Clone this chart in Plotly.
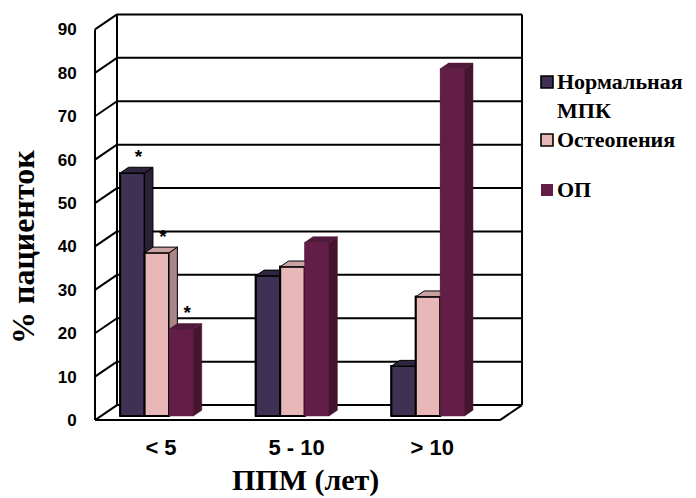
import plotly.graph_objects as go

# ---- data -------------------------------------------------------------
categories = ["< 5", "5 - 10", "> 10"]
series_names = ["Нормальная<br>МПК", "Остеопения", "ОП"]
normal_bmd = [56, 32.3, 11.5]
osteopenia = [37.6, 34.4, 27.5]
osteoporosis = [20, 40, 80]
significance = [["*", "", ""], ["*", "", ""], ["*", "", ""]]
y_ticks = [0, 10, 20, 30, 40, 50, 60, 70, 80, 90]
x_title = "ППМ (лет)"
y_title = "% пациенток"

series_values = [normal_bmd, osteopenia, osteoporosis]

# ---- styles -----------------------------------------------------------
SERIF = "Liberation Serif, Times New Roman, serif"
SANS = "Liberation Sans, Arial, sans-serif"
LEGEND_SIZE = 22
front_colors = ["#3f3153", "#e8b7b8", "#621e46"]
top_colors = ["#30253f", "#c9a1a1", "#511a3a"]
side_colors = ["#2a2037", "#a98585", "#45142f"]
edge_colors = ["black", "black", None]

# oblique projection: one depth unit moves a point right and up
DX = 22 / 135.6          # category units per depth unit
DY = 15 / 4.34           # value units per depth unit
D_FRONT, D_BAR, D_BACK = -0.27, 0.38, 0.73
X_LEFT, X_RIGHT = -0.412, 2.575
BAR_W = 0.18

# plot area in pixels (for placing the legend keys and titles)
PLOT_L, PLOT_R, PLOT_T, PLOT_B = 88, 530, 8, 432


def px_x(px):
    return (px - PLOT_L) / (PLOT_R - PLOT_L)


def px_y(py):
    return (PLOT_B - py) / (PLOT_B - PLOT_T)


def proj(x, v, d):
    return x + d * DX, v + d * DY


fig = go.Figure()

# bars (front faces)
for k, vals in enumerate(series_values):
    fig.add_trace(go.Bar(
        x=[i + (k - 1) * BAR_W for i in range(len(categories))],
        y=vals, width=BAR_W, name=series_names[k],
        marker=dict(color=front_colors[k],
                    line=dict(color=edge_colors[k] or front_colors[k],
                              width=2 if edge_colors[k] else 0)),
        hoverinfo="skip", showlegend=False,
    ))

# walls, floor and gridlines
wx, wy = [], []


def seg(p, q):
    wx.extend([p[0], q[0], None])
    wy.extend([p[1], q[1], None])


top = y_ticks[-1]
for t in y_ticks:
    seg(proj(X_LEFT, t, D_BACK), proj(X_RIGHT, t, D_BACK))
    seg(proj(X_LEFT, t, D_FRONT), proj(X_LEFT, t, D_BACK))
seg(proj(X_LEFT, 0, D_FRONT), proj(X_LEFT, top, D_FRONT))
seg(proj(X_LEFT, 0, D_BACK), proj(X_LEFT, top, D_BACK))
seg(proj(X_RIGHT, 0, D_BACK), proj(X_RIGHT, top, D_BACK))
seg(proj(X_LEFT, 0, D_FRONT), proj(X_RIGHT, 0, D_FRONT))
seg(proj(X_RIGHT, 0, D_FRONT), proj(X_RIGHT, 0, D_BACK))
fig.add_trace(go.Scatter(x=wx, y=wy, mode="lines",
                         line=dict(color="black", width=2),
                         showlegend=False, hoverinfo="skip"))


def face(pts, fill, edge, width):
    xs = [p[0] for p in pts] + [pts[0][0]]
    ys = [p[1] for p in pts] + [pts[0][1]]
    fig.add_trace(go.Scatter(
        x=xs, y=ys, mode="lines", fill="toself", fillcolor=fill,
        line=dict(color=edge or fill, width=width if edge else 0.5),
        showlegend=False, hoverinfo="skip"))


# 3-D faces drawn group by group, left to right
for i in range(len(categories)):
    for k, vals in enumerate(series_values):
        v = vals[i]
        xl = i + (k - 1) * BAR_W - BAR_W / 2
        xr = xl + BAR_W
        face([(xl, 0), (xr, 0), (xr, v), (xl, v)],
             front_colors[k], edge_colors[k], 2)
        face([(xr, 0), (xr, v), proj(xr, v, D_BAR), proj(xr, 0, D_BAR)],
             side_colors[k], edge_colors[k], 1)
        face([(xl, v), (xr, v), proj(xr, v, D_BAR), proj(xl, v, D_BAR)],
             top_colors[k], edge_colors[k], 1)

# significance marks
sx, sy, st = [], [], []
for k, vals in enumerate(series_values):
    for i, mark in enumerate(significance[k]):
        if mark:
            sx.append(i + (k - 1) * BAR_W + 0.045)
            sy.append(vals[i] + 3.4)
            st.append(mark)
fig.add_trace(go.Scatter(
    x=sx, y=sy, text=st, mode="text", textposition="middle center",
    textfont=dict(family=SANS, size=19, color="black", weight="bold"),
    showlegend=False, hoverinfo="skip"))

# legend: colour keys and labels
legend_rows = [82, 140, 190]
half_line = LEGEND_SIZE * 1.3 / 2
shapes, annotations = [], []
for k, name in enumerate(series_names):
    cy = legend_rows[k]
    shapes.append(dict(
        type="rect", xref="paper", yref="paper",
        x0=px_x(541), x1=px_x(553), y0=px_y(cy + 6), y1=px_y(cy - 6),
        fillcolor=front_colors[k],
        line=dict(color=edge_colors[k] or front_colors[k],
                  width=1.6 if edge_colors[k] else 0)))
    annotations.append(dict(
        text="<b>" + name + "</b>", xref="paper", yref="paper",
        x=px_x(556), y=px_y(cy - half_line), borderpad=0,
        xanchor="left", yanchor="top", align="left", showarrow=False,
        font=dict(family=SERIF, size=LEGEND_SIZE, color="black")))

annotations += [
    dict(text="<b>" + x_title + "</b>", xref="paper", yref="paper",
         x=px_x(305), y=px_y(480),
         showarrow=False, xanchor="center", yanchor="middle",
         font=dict(family=SERIF, size=30, color="black")),
    dict(text="<b>" + y_title + "</b>", xref="paper", yref="paper",
         x=px_x(23), y=px_y(247),
         showarrow=False, xanchor="center", yanchor="middle",
         textangle=-90,
         font=dict(family=SERIF, size=32, color="black")),
]

fig.update_layout(
    width=696, height=498,
    margin=dict(l=PLOT_L, r=696 - PLOT_R, t=PLOT_T, b=498 - PLOT_B),
    paper_bgcolor="white", plot_bgcolor="white",
    showlegend=False,
    xaxis=dict(range=[-0.5074, 2.7522], showgrid=False, zeroline=False,
               showline=False,
               tickvals=[i + (D_BAR / 2) * DX for i in range(len(categories))],
               ticktext=categories, ticks="",
               tickfont=dict(family=SANS, size=22, color="black",
                             weight="bold")),
    yaxis=dict(range=[-3.687, 94.01], showgrid=False, zeroline=False,
               showline=False,
               tickvals=[t + D_FRONT * DY for t in y_ticks],
               ticktext=[str(t) for t in y_ticks], ticks="outside",
               ticklen=7, tickcolor="rgba(0,0,0,0)",
               tickfont=dict(family=SANS, size=17, color="black",
                             weight="bold")),
    shapes=shapes,
    annotations=annotations,
)

fig.write_html("out.html")
